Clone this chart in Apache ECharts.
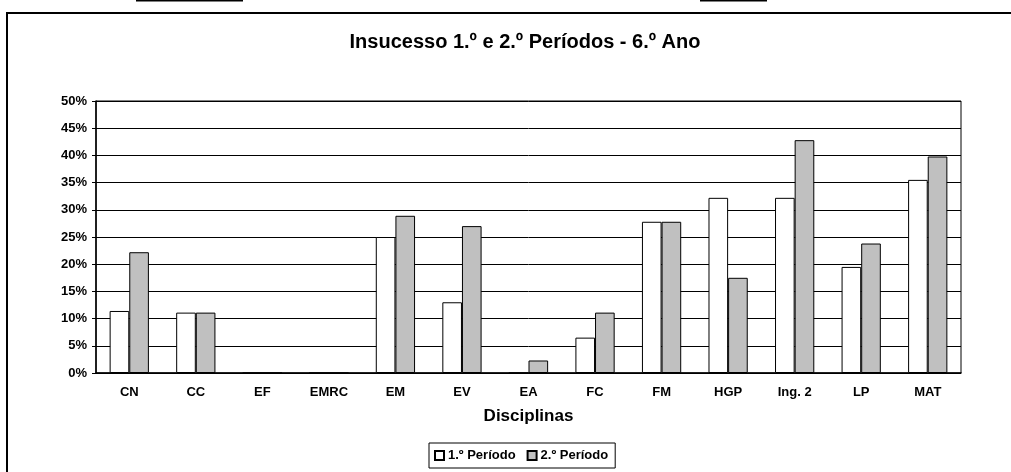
<!DOCTYPE html>
<html>
<head>
    <meta http-equiv="Content-Type" content="text/html; charset=UTF-8">
    <title>Insucesso 6.º Ano</title>
    <script type="text/javascript" src="https://cdn.jsdelivr.net/npm/echarts@6/dist/echarts.min.js"></script>
    <style>
        html, body { margin: 0; padding: 0; background: #fff; }
        #main { width: 1011px; height: 472px; }
    </style>
</head>
<body>
<div id="main"></div>
<script type="text/javascript">
    // disciplinas
    var categorias = ['CN', 'CC', 'EF', 'EMRC', 'EM', 'EV', 'EA', 'FC', 'FM', 'HGP', 'Ing. 2', 'LP', 'MAT'];
    // percentagens de insucesso
    var periodo1 = [11.4, 11.1, 0, 0, 25.0, 13.0, 0, 6.5, 27.8, 32.2, 32.2, 19.5, 35.5];
    var periodo2 = [22.2, 11.1, 0, 0, 28.9, 27.0, 2.3, 11.1, 27.8, 17.5, 42.8, 23.8, 39.8];
    var nomes = ['1.º Período', '2.º Período'];

    var font = 'Liberation Sans, Arial, sans-serif';
    var chart = echarts.init(document.getElementById('main'));
    chart.setOption({
        animation: false,
        backgroundColor: '#fff',
        title: {
            text: 'Insucesso 1.º e 2.º Períodos - 6.º Ano',
            left: 520, top: 27, textAlign: 'center',
            textStyle: {fontFamily: font, fontSize: 20, fontWeight: 'bold', color: '#000'}
        },
        legend: {
            data: nomes,
            icon: 'rect',
            left: 429, top: 443,
            padding: [6, 7, 6, 5],
            itemWidth: 9, itemHeight: 9, itemGap: 11,
            borderColor: '#000', borderWidth: 1,
            textStyle: {fontFamily: font, fontSize: 13, fontWeight: 'bold', color: '#000', padding: [0, 0, 0, -1]}
        },
        grid: {
            left: 96, right: 50, top: 101, bottom: 99,
            show: true, borderColor: '#000', borderWidth: 1
        },
        xAxis: {
            type: 'category',
            data: categorias,
            name: 'Disciplinas',
            nameLocation: 'middle',
            nameGap: 35,
            nameTextStyle: {fontFamily: font, fontSize: 17, fontWeight: 'bold', color: '#000'},
            axisLine: {lineStyle: {color: '#000', width: 1.5}},
            axisTick: {length: 4, lineStyle: {color: '#000'}},
            axisLabel: {fontFamily: font, fontSize: 13, fontWeight: 'bold', color: '#000', margin: 13, interval: 0}
        },
        yAxis: {
            type: 'value',
            min: 0, max: 50, interval: 5,
            axisLine: {show: true, lineStyle: {color: '#000', width: 1.5}},
            axisTick: {show: true, length: 4, lineStyle: {color: '#000'}},
            axisLabel: {formatter: '{value}%', fontFamily: font, fontSize: 13, fontWeight: 'bold', color: '#000', margin: 9},
            splitLine: {lineStyle: {color: '#000', width: 1}}
        },
        series: [
            {
                name: nomes[0], type: 'bar', data: periodo1,
                barGap: '0%', barCategoryGap: '41%',
                itemStyle: {color: '#ffffff', borderColor: '#000', borderWidth: 1}
            },
            {
                name: nomes[1], type: 'bar', data: periodo2,
                barGap: '0%', barCategoryGap: '41%',
                itemStyle: {color: '#c0c0c0', borderColor: '#000', borderWidth: 1}
            }
        ],
        graphic: [
            // moldura exterior
            {type: 'rect', shape: {x: 7, y: 13, width: 1030, height: 480}, style: {fill: 'none', stroke: '#000', lineWidth: 2}},
            // restos de linhas acima do gráfico
            {type: 'line', shape: {x1: 136, y1: 0.5, x2: 243, y2: 0.5}, style: {stroke: '#000', lineWidth: 2}},
            {type: 'line', shape: {x1: 700, y1: 0.5, x2: 767, y2: 0.5}, style: {stroke: '#000', lineWidth: 2}}
        ]
    });
</script>
</body>
</html>
